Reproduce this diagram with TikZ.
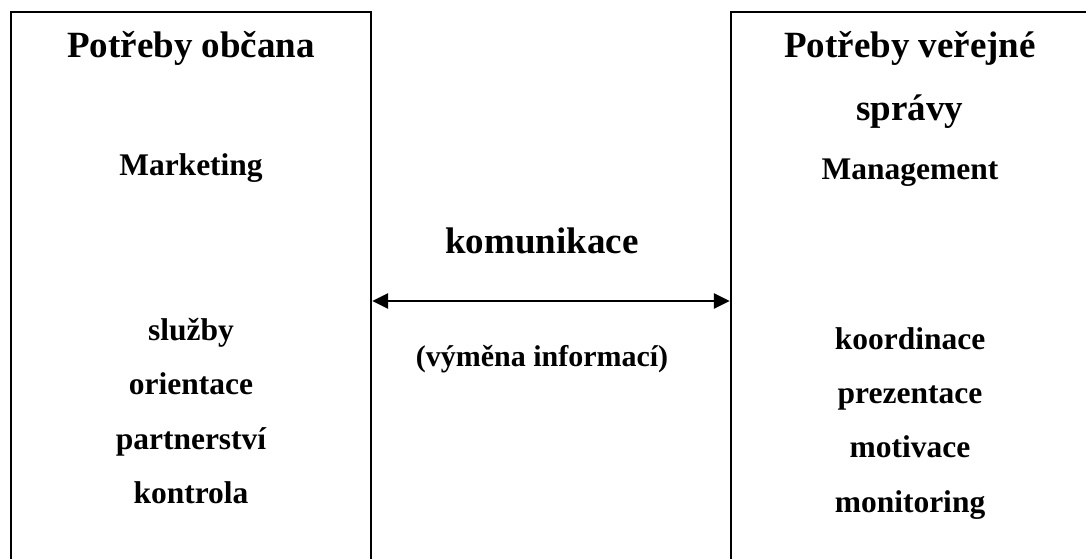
\documentclass[tikz,border=0pt]{standalone}
\usepackage{fontspec}
\setmainfont{Liberation Serif}
\usetikzlibrary{arrows.meta}
\tikzset{
  box/.style={draw, line width=2.4pt, minimum width=360pt, minimum height=578pt, inner sep=0pt},
  big/.style={font=\fontsize{37}{44}\selectfont\bfseries, anchor=base, inner sep=0pt},
  mid/.style={font=\fontsize{31.5}{38}\selectfont\bfseries, anchor=base, inner sep=0pt},
  small/.style={font=\fontsize{30}{36}\selectfont\bfseries, anchor=base, inner sep=0pt},
  link/.style={line width=2.6pt, {Triangle[length=16pt,width=15pt]}-{Triangle[length=16pt,width=15pt]}}
}
\begin{document}
\begin{tikzpicture}[x=1pt,y=-1pt]
\clip (0,0) rectangle (1086,558);
\node[box] (left) at (191,301) {};
\node[box] (right) at (911,301) {};
\draw[link] (left.east) -- (right.west);
% left texts
\node[big] (t1) at (191,57) {Potřeby občana};
\node[mid] (m1) at (191,175) {Marketing};
\node[mid] (l1) at (191,340) {služby};
\node[mid] (l2) at (191,394) {orientace};
\node[mid] (l3) at (191,449) {partnerství};
\node[mid] (l4) at (191,503) {kontrola};
% middle
\node[big] (k) at (542,253) {komunikace};
\node[small] (v) at (542,366) {(výměna informací)};
% right texts
\node[big] (t2) at (910,57) {Potřeby veřejné};
\node[big] (t3) at (910,120) {správy};
\node[mid] (m2) at (910,179) {Management};
\node[mid] (r1) at (910,349) {koordinace};
\node[mid] (r2) at (910,403) {prezentace};
\node[mid] (r3) at (910,457) {motivace};
\node[mid] (r4) at (910,512) {monitoring};
\end{tikzpicture}
\end{document}
